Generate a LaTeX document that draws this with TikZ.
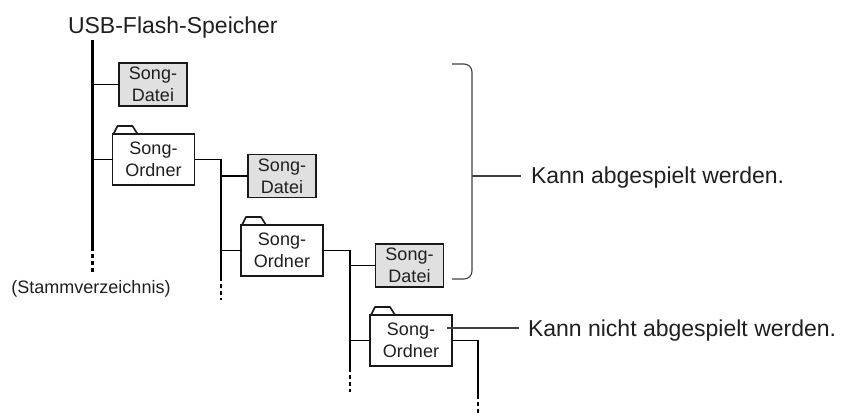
\documentclass[tikz,border=0pt]{standalone}
\usepackage{fontspec}
\setmainfont{Liberation Sans}
\begin{document}
\begin{tikzpicture}[x=1bp,y=-1bp,
  every node/.style={inner sep=0pt, outer sep=0pt, text=black!88},
  boxfont/.style={font=\fontsize{18bp}{22bp}\selectfont},
  filebox/.style={boxfont, draw=black!90, line width=1.6bp, fill=black!12,
    minimum width=68bp, minimum height=43bp, align=center},
  folderbox/.style={boxfont, draw=black!90, line width=1.6bp, fill=white,
    minimum width=82bp, minimum height=51bp, align=center},
  foldertab/.style={draw=black!90, line width=1.6bp, line join=round},
  trunk/.style={line width=3bp},
  link/.style={line width=1.4bp},
  trail/.style={line width=1.4bp, dash pattern=on 4bp off 3bp},
  note/.style={draw=black!75, line width=1.1bp},
  caption/.style={anchor=base west, font=\fontsize{23bp}{27bp}\selectfont}
]
\useasboundingbox (0,0) rectangle (850,417);

% root directory
\node[caption] (usb) at (68,33) {USB-Flash-Speicher};
\coordinate (r0) at (92,40);
\coordinate (r1) at (92,247);
\coordinate (r2) at (92,272);
\draw[trunk] (r0) -- (r1);
\draw[trunk, dash pattern=on 4bp off 3bp] (r1) -- (r2);
\node[boxfont, anchor=center] (stamm) at (91,289) {(Stammverzeichnis)};

% level 1
\node[filebox] (d1) at (153,84.5) {Song-\\Datei};
\node[folderbox] (f1) at (153.5,159.5) {Song-\\Ordner};
\draw[link] (d1.west) -- (d1.west -| r0);
\draw[link] (f1.west) -- (f1.west -| r0);

% level 2
\coordinate (v2a) at (221,159.5);
\coordinate (v2b) at (221,277);
\coordinate (v2c) at (221,300);
\draw[link] (f1.east) -- (v2a) -- (v2b);
\draw[trail] (v2b) -- (v2c);
\node[filebox] (d2) at (282,176) {Song-\\Datei};
\node[folderbox] (f2) at (282,250.5) {Song-\\Ordner};
\draw[link] (d2.west) -- (d2.west -| v2a);
\draw[link] (f2.west) -- (f2.west -| v2a);

% level 3
\coordinate (v3a) at (350,250.5);
\coordinate (v3b) at (350,368);
\coordinate (v3c) at (350,392);
\draw[link] (f2.east) -- (v3a) -- (v3b);
\draw[trail] (v3b) -- (v3c);
\node[filebox] (d3) at (409.5,265.5) {Song-\\Datei};
\node[folderbox] (f3) at (411,340.5) {Song-\\Ordner};
\draw[link] (d3.west) -- (d3.west -| v3a);
\draw[link] (f3.west) -- (f3.west -| v3a);

% level 4
\coordinate (v4a) at (478,340.5);
\coordinate (v4b) at (478,395);
\coordinate (v4c) at (478,415);
\draw[link] (f3.east) -- (v4a) -- (v4b);
\draw[trail] (v4b) -- (v4c);

% folder tabs
\foreach \f in {f1,f2,f3}
  \draw[foldertab] ([xshift=1bp]\f.north west) -- ++(4,-8) -- ++(15,0) -- ++(5,8);

% bracket over the playable items
\coordinate (b0) at (452,64);
\coordinate (b1) at (472,64);
\coordinate (b2) at (472,279);
\coordinate (b3) at (452,279);
\coordinate (bm) at (472,176);
\draw[note, rounded corners=8bp] (b0) -- (b1) -- (b2) -- (b3);
\node[caption] (ok) at (531,183) {Kann abgespielt werden.};
\draw[note] (bm) -- ([xshift=-10bp]ok.west |- bm);

% pointer to the folder that cannot be played
\coordinate (p0) at (447,328);
\node[caption] (no) at (528,336) {Kann nicht abgespielt werden.};
\draw[note] (p0) -- ([xshift=-9bp]no.west |- p0);
\end{tikzpicture}
\end{document}
